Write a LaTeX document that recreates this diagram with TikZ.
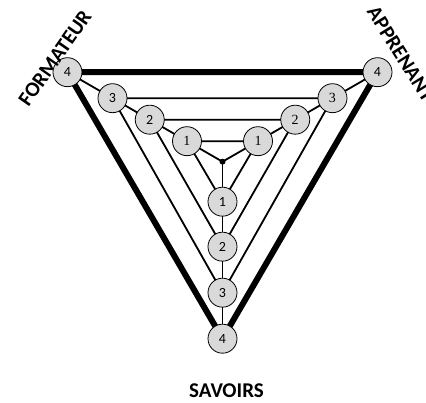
\documentclass[tikz,border=0pt]{standalone}
\usepackage{fontspec}
\setmainfont{Carlito}
\newfontfamily\numserif{Liberation Serif}
\usetikzlibrary{backgrounds,calc}
\begin{document}
\begin{tikzpicture}[x=1pt,y=1pt,
  lvl/.style={circle,draw=black,line width=0.8pt,fill=black!15,minimum size=29pt,inner sep=0pt,font=\fontsize{14}{14}\selectfont},
  lvlserif/.style={lvl,font=\numserif\fontsize{14}{14}\selectfont},
  thin/.style={line width=1.8pt},
  heavy/.style={line width=6pt},
  lab/.style={font=\bfseries\fontsize{21}{21}\selectfont,inner sep=0pt}]
\useasboundingbox (0,0) rectangle (426,403);
\coordinate (c) at (222.5,241.3);
% left
\node[lvl] (L4) at ($(c)+(150:179)$) {4};
\node[lvl] (L3) at ($(c)+(150:127)$) {3};
\node[lvl] (L2) at ($(c)+(150:84)$) {2};
\node[lvlserif] (L1) at ($(c)+(150:41)$) {1};
% right
\node[lvl] (R4) at ($(c)+(30:179)$) {4};
\node[lvlserif] (R3) at ($(c)+(30:127)$) {3};
\node[lvlserif] (R2) at ($(c)+(30:84)$) {2};
\node[lvlserif] (R1) at ($(c)+(30:41)$) {1};
% bottom
\node[lvl] (B4) at ($(c)+(270:177)$) {4};
\node[lvl] (B3) at ($(c)+(270:131)$) {3};
\node[lvl] (B2) at ($(c)+(270:85)$) {2};
\node[lvl] (B1) at ($(c)+(270:40)$) {1};
\node[circle,fill=black,inner sep=0pt,minimum size=6pt] (dot) at (c) {};
\begin{pgfonlayer}{background}
\draw[heavy] (L4.center) -- (R4.center) -- (B4.center) -- cycle;
\foreach \i in {1,2,3}{
  \draw[thin] (L\i.center) -- (R\i.center) -- (B\i.center) -- cycle;
}
\draw[thin] (L4.center) -- (L3.center) -- (L2.center) -- (L1.center) -- (dot.center);
\draw[thin] (R4.center) -- (R3.center) -- (R2.center) -- (R1.center) -- (dot.center);
\draw[thin] (B4.center) -- (B3.center) -- (B2.center) -- (B1.center) -- (dot.center);
\end{pgfonlayer}
\node[lab,rotate=55] (form) at (55,345) {FORMATEUR};
\node[lab,rotate=-58,anchor=west] (appr) at (372,395) {APPRENANT};
\node[lab] (sav) at (226.5,12.5) {SAVOIRS};
\end{tikzpicture}
\end{document}
